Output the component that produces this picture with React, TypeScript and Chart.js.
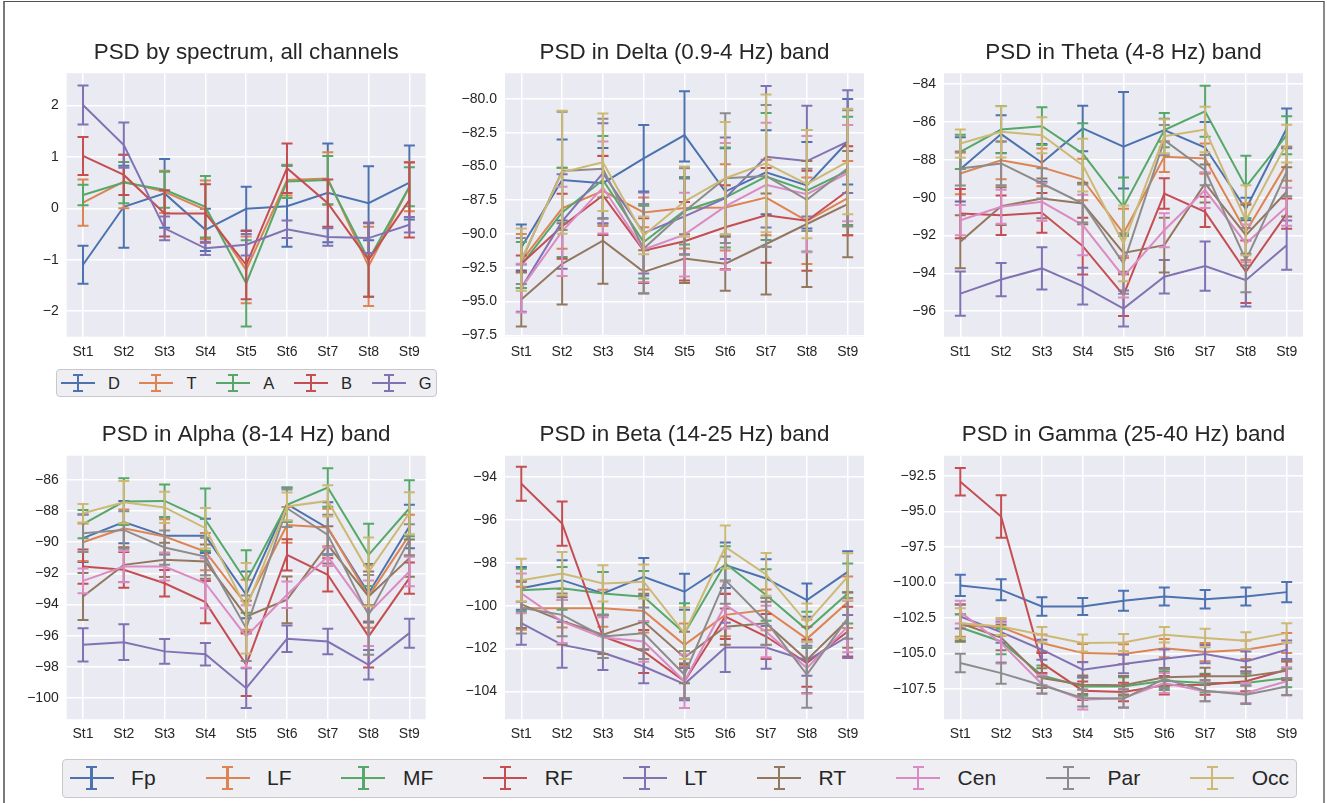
import React, { useEffect, useRef } from 'react';
import { Chart, registerables } from 'chart.js';

Chart.register(...registerables);

// ---------------- DATA ----------------
const STATIONS = ['St1', 'St2', 'St3', 'St4', 'St5', 'St6', 'St7', 'St8', 'St9'];
const SPECTRA = ['D', 'T', 'A', 'B', 'G'];
const CHANNELS = ['Fp', 'LF', 'MF', 'RF', 'LT', 'RT', 'Cen', 'Par', 'Occ'];

type Err = number | [number, number]; // symmetric or [down, up]

const SPECTRUM_MEAN: number[][] = [
  [-1.1, 0.03, 0.29, -0.42, -0.01, 0.04, 0.3, 0.1, 0.5],
  [0.11, 0.52, 0.32, -0.03, -1.2, 0.55, 0.58, -1.13, 0.42],
  [0.26, 0.5, 0.36, 0.03, -1.46, 0.52, 0.55, -1.0, 0.42],
  [1.02, 0.65, -0.1, -0.1, -1.1, 0.78, 0.1, -1.0, 0.16],
  [2.01, 1.23, -0.39, -0.78, -0.71, -0.41, -0.56, -0.58, -0.32],
];
const SPECTRUM_ERR: Err[][] = [
  [0.37, 0.8, 0.67, 0.41, 0.43, 0.79, 0.96, 0.72, 0.72],
  [0.45, 0.52, 0.41, 0.57, 0.65, 0.3, 0.51, 0.77, 0.48],
  [0.2, 0.4, 0.35, 0.6, 0.84, 0.32, 0.47, 0.72, 0.38],
  [0.37, 0.39, 0.45, 0.57, 0.67, 0.48, 0.46, 0.72, 0.73],
  [0.38, 0.44, 0.23, 0.13, 0.21, 0.17, 0.17, 0.29, 0.15],
];

const DELTA_MEAN: number[][] = [
  [-91.0, -86.0, -86.24, -84.4, -82.68, -86.86, -85.43, -86.4, -83.17],
  [-92.0, -88.1, -86.8, -88.4, -88.08, -88.03, -87.3, -89.02, -87.35],
  [-92.3, -88.4, -86.0, -90.6, -88.28, -87.3, -85.75, -86.8, -85.33],
  [-92.2, -89.43, -87.15, -91.23, -90.54, -89.5, -88.62, -89.02, -86.8],
  [-94.0, -89.07, -85.5, -89.93, -88.7, -87.35, -84.28, -84.6, -83.17],
  [-94.84, -92.21, -90.49, -92.8, -91.82, -92.2, -90.74, -89.26, -87.79],
  [-94.0, -89.8, -86.56, -91.15, -90.05, -87.96, -86.36, -87.05, -85.5],
  [-92.0, -85.33, -85.18, -91.08, -88.33, -85.87, -85.7, -87.47, -85.14],
  [-91.9, -85.43, -84.69, -90.1, -87.6, -85.87, -84.77, -86.31, -84.64],
];
const DELTA_ERR: Err[][] = [
  [1.7, 3.0, 2.6, 2.46, [1.96, 3.25], 3.2, 3.1, 3.2, 3.16],
  [2.0, 3.0, 2.6, 1.1, 3.0, 3.2, 2.8, 3.2, 2.75],
  [1.7, 3.3, 3.25, 2.7, 2.5, 3.7, 4.7, 4.5, 4.0],
  [0.6, 2.4, 2.93, 2.4, 2.9, 3.1, 3.5, 3.7, 3.3],
  [1.75, 3.5, 3.7, 3.0, 2.8, 4.5, 5.24, 4.1, 3.8],
  [2.0, 3.0, 3.2, 1.6, 1.8, 2.0, 3.73, 4.67, 3.93],
  [1.8, 3.3, 3.4, 2.4, 3.1, 4.7, 4.6, 4.3, 3.56],
  [1.7, 4.37, 3.7, 3.3, 3.2, 4.8, 5.25, 2.3, 4.3],
  [2.3, 4.55, 3.6, 1.4, 2.6, 4.15, 5.1, 4.0, 3.9],
];

const THETA_MEAN: number[][] = [
  [-88.5, -86.64, -88.16, -86.34, -87.31, -86.43, -87.35, -90.6, -86.34],
  [-88.72, -88.02, -88.4, -89.04, -91.89, -87.84, -87.93, -91.8, -88.2],
  [-87.58, -86.4, -86.22, -87.67, -90.48, -86.43, -85.43, -89.43, -86.7],
  [-90.84, -90.93, -90.8, -92.56, -95.15, -89.78, -90.75, -93.92, -90.84],
  [-95.07, -94.33, -93.74, -94.68, -95.86, -94.18, -93.62, -94.36, -92.51],
  [-92.33, -90.45, -90.04, -90.31, -92.92, -92.51, -89.25, -91.98, -89.69],
  [-91.19, -90.48, -90.22, -91.45, -94.18, -91.72, -89.6, -92.42, -90.48],
  [-88.46, -88.19, -89.25, -90.31, -93.48, -86.96, -88.55, -93.3, -88.63],
  [-87.14, -86.52, -86.7, -88.28, -92.42, -86.75, -86.4, -91.2, -87.14],
];
const THETA_ERR: Err[][] = [
  [1.7, 1.0, 1.0, 1.2, [2.2, 2.9], 0.6, 1.35, 0.6, 1.05],
  [1.1, 1.0, 1.0, 1.1, 1.3, 0.8, 0.8, 1.5, 0.9],
  [0.9, 1.25, 1.0, 1.6, 1.55, 0.9, 1.35, 1.65, 1.0],
  [1.3, 1.05, 1.05, 1.5, 1.1, 0.8, 0.8, 1.65, 0.8],
  [1.17, 0.88, 1.12, 0.97, 0.95, 0.88, 1.3, 1.4, 1.3],
  [1.4, 1.0, 1.05, 1.1, 1.0, 1.45, 1.0, 1.6, 1.3],
  [0.8, 0.9, 1.0, 1.6, 1.1, 0.9, 0.95, 1.0, 1.0],
  [0.9, 1.15, 0.8, 1.0, 1.6, 0.8, 0.8, 1.7, 1.3],
  [0.75, 1.35, 0.95, 1.4, 2.0, 0.9, 1.2, 1.85, 1.0],
];

const ALPHA_MEAN: number[][] = [
  [-89.74, -88.71, -89.59, -89.59, -93.37, -87.56, -89.1, -93.27, -88.99],
  [-90.0, -89.1, -89.63, -90.6, -94.01, -88.89, -89.06, -93.48, -89.53],
  [-88.84, -87.39, -87.35, -88.56, -92.52, -87.6, -86.49, -90.81, -87.82],
  [-91.56, -91.77, -92.63, -93.84, -97.86, -90.81, -92.09, -96.04, -92.3],
  [-96.58, -96.41, -97.0, -97.18, -99.36, -96.19, -96.37, -97.86, -95.83],
  [-93.48, -91.45, -91.13, -91.24, -94.76, -93.69, -90.17, -93.48, -91.02],
  [-92.48, -91.56, -91.56, -92.63, -96.04, -93.37, -90.92, -94.55, -91.88],
  [-89.42, -89.21, -90.34, -90.92, -95.51, -87.82, -89.53, -94.66, -89.85],
  [-88.14, -87.43, -87.77, -89.1, -94.23, -87.71, -87.35, -91.9, -88.14],
];
const ALPHA_ERR: Err[][] = [
  [1.52, 1.35, 1.2, 1.1, 1.5, 1.07, 1.67, 1.87, 1.4],
  [1.2, 1.2, 1.1, 1.2, 1.6, 1.15, 1.2, 2.0, 1.3],
  [0.9, 1.5, 1.05, 2.0, 2.0, 1.1, 1.23, 2.0, 1.8],
  [1.1, 1.15, 0.85, 1.35, 2.0, 1.0, 1.07, 2.0, 1.0],
  [1.07, 1.15, 0.8, 0.72, 1.27, 0.85, 0.82, 0.95, 0.93],
  [1.5, 1.1, 1.1, 1.1, 1.0, 1.5, 1.2, 1.6, 1.2],
  [0.8, 1.0, 0.9, 1.6, 2.0, 0.85, 0.6, 2.1, 0.95],
  [1.2, 1.2, 1.1, 1.2, 2.1, 1.2, 1.3, 2.56, 1.0],
  [0.6, 1.35, 1.0, 1.3, 2.9, 0.9, 1.0, 2.2, 1.35],
];

const BETA_MEAN: number[][] = [
  [-99.19, -98.81, -99.43, -98.65, -99.35, -98.11, -98.73, -99.74, -98.42],
  [-100.12, -100.12, -100.12, -100.25, -101.83, -100.43, -100.2, -101.55, -99.84],
  [-99.28, -99.19, -99.43, -99.58, -101.29, -98.03, -99.5, -101.13, -99.43],
  [-94.31, -96.17, -101.44, -102.14, -103.53, -100.51, -101.44, -102.68, -101.21],
  [-100.82, -101.83, -102.2, -102.84, -103.66, -101.95, -101.95, -102.57, -101.44],
  [-99.94, -100.71, -101.36, -100.74, -102.42, -100.98, -100.82, -102.53, -100.67],
  [-99.43, -100.74, -101.49, -101.67, -103.53, -99.97, -101.21, -102.91, -100.98],
  [-100.1, -100.43, -101.44, -101.29, -103.22, -98.81, -100.74, -103.22, -100.59],
  [-98.81, -98.5, -98.96, -98.88, -101.29, -97.26, -98.54, -100.8, -98.65],
];
const BETA_ERR: Err[][] = [
  [1.0, 0.93, 1.0, 0.87, 0.84, 1.06, 0.9, 0.78, 0.96],
  [1.0, 0.9, 0.86, 1.0, 1.0, 1.0, 0.95, 0.9, 1.2],
  [1.0, 1.0, 1.0, 1.2, 1.4, 0.8, 1.2, 0.85, 1.4],
  [0.79, 1.03, 1.0, 1.0, 0.8, 1.05, 1.05, 1.1, 1.16],
  [1.0, 1.07, 0.8, 0.78, 0.75, 1.15, 1.0, 0.7, 1.0],
  [1.1, 1.1, 0.9, 1.3, 1.2, 0.85, 1.0, 1.55, 1.3],
  [0.93, 1.0, 0.95, 0.95, 1.25, 1.1, 1.2, 1.2, 1.2],
  [1.2, 1.0, 1.0, 1.2, 1.1, 1.1, 1.1, 1.55, 0.95],
  [1.0, 1.0, 0.85, 0.8, 1.2, 1.0, 1.0, 0.9, 1.1],
];

const GAMMA_MEAN: number[][] = [
  [-100.22, -100.53, -101.7, -101.7, -101.3, -101.0, -101.19, -101.0, -100.69],
  [-103.04, -103.16, -104.28, -104.99, -105.06, -104.64, -104.92, -104.75, -104.28],
  [-103.18, -104.17, -106.56, -107.34, -107.34, -106.94, -107.1, -107.1, -106.75],
  [-92.9, -95.36, -105.69, -107.64, -107.73, -107.26, -107.22, -106.98, -106.16],
  [-102.41, -103.51, -104.75, -106.16, -105.76, -105.39, -105.06, -105.58, -104.75],
  [-102.88, -103.89, -106.75, -107.22, -107.26, -106.7, -106.63, -106.63, -106.23],
  [-102.1, -104.28, -107.17, -108.27, -108.16, -107.1, -107.69, -107.8, -106.98],
  [-105.69, -106.4, -107.26, -108.16, -108.2, -106.8, -107.64, -107.92, -107.34],
  [-102.88, -103.11, -103.7, -104.28, -104.24, -103.7, -103.93, -104.12, -103.58],
];
const GAMMA_ERR: Err[][] = [
  [0.75, 0.74, 0.65, 0.6, 0.7, 0.64, 0.65, 0.64, 0.72],
  [0.8, 0.6, 0.6, 0.65, 0.7, 0.65, 0.65, 0.65, 0.7],
  [0.92, 0.9, 0.7, 0.65, 0.65, 0.65, 0.65, 0.65, 0.65],
  [0.97, 1.5, 0.7, 0.65, 0.65, 0.65, 0.7, 0.7, 0.6],
  [0.85, 0.75, 0.7, 0.55, 0.65, 0.65, 0.65, 0.7, 0.65],
  [1.31, 0.9, 0.7, 0.65, 0.65, 0.65, 0.6, 0.65, 0.65],
  [0.8, 1.45, 0.65, 0.7, 0.65, 0.7, 0.7, 0.7, 1.0],
  [0.65, 0.75, 0.6, 0.6, 0.65, 0.65, 0.75, 0.65, 0.6],
  [1.05, 0.6, 0.55, 0.6, 0.6, 0.55, 0.65, 0.6, 0.7],
];

const SPECTRUM_TICKS = [-2, -1, 0, 1, 2];
const DELTA_TICKS = [-97.5, -95, -92.5, -90, -87.5, -85, -82.5, -80];
const THETA_TICKS = [-96, -94, -92, -90, -88, -86, -84];
const ALPHA_TICKS = [-100, -98, -96, -94, -92, -90, -88, -86];
const BETA_TICKS = [-104, -102, -100, -98, -96, -94];
const GAMMA_TICKS = [-107.5, -105, -102.5, -100, -97.5, -95, -92.5];

// ---------------- STYLE ----------------
const COLORS = ['#4C72B0', '#DD8452', '#55A868', '#C44E52', '#8172B3', '#937860', '#DA8BC3', '#8C8C8C', '#CCB974'];
const FONT = '"Liberation Sans", Arial, Helvetica, sans-serif';
const TEXT = '#262626';
const PLOT_W = 359;
const PLOT_H = 263.5;

type PanelSpec = {
  title: string;
  names: string[];
  means: number[][];
  errs: Err[][];
  ticks: number[];
  decimals: number;
  yMin: number;
  yMax: number;
  left: number;
  top: number;
};

const PANELS: PanelSpec[] = [
  { title: 'PSD by spectrum, all channels', names: SPECTRA, means: SPECTRUM_MEAN, errs: SPECTRUM_ERR, ticks: SPECTRUM_TICKS, decimals: 0, yMin: -2.5, yMax: 2.63, left: 66.7, top: 73.2 },
  { title: 'PSD in Delta (0.9-4 Hz) band', names: CHANNELS, means: DELTA_MEAN, errs: DELTA_ERR, ticks: DELTA_TICKS, decimals: 1, yMin: -97.6, yMax: -78.1, left: 505, top: 73.2 },
  { title: 'PSD in Theta (4-8 Hz) band', names: CHANNELS, means: THETA_MEAN, errs: THETA_ERR, ticks: THETA_TICKS, decimals: 0, yMin: -97.35, yMax: -83.42, left: 944, top: 73.2 },
  { title: 'PSD in Alpha (8-14 Hz) band', names: CHANNELS, means: ALPHA_MEAN, errs: ALPHA_ERR, ticks: ALPHA_TICKS, decimals: 0, yMin: -101.35, yMax: -84.45, left: 66.7, top: 455.7 },
  { title: 'PSD in Beta (14-25 Hz) band', names: CHANNELS, means: BETA_MEAN, errs: BETA_ERR, ticks: BETA_TICKS, decimals: 0, yMin: -105.3, yMax: -93.0, left: 505, top: 455.7 },
  { title: 'PSD in Gamma (25-40 Hz) band', names: CHANNELS, means: GAMMA_MEAN, errs: GAMMA_ERR, ticks: GAMMA_TICKS, decimals: 1, yMin: -109.65, yMax: -91.07, left: 944, top: 455.7 },
];

const fmtTick = (v: number, d: number) => v.toFixed(d).replace('-', '\u2212');

const plotBgPlugin = {
  id: 'plotBg',
  beforeDraw(chart: any) {
    const { ctx, chartArea: a } = chart;
    ctx.save();
    ctx.fillStyle = '#EAEAF2';
    ctx.fillRect(a.left, a.top, a.right - a.left, a.bottom - a.top);
    ctx.restore();
  },
};

const CAP = 5.5;
const errorBarPlugin = {
  id: 'errorBars',
  afterDatasetDraw(chart: any, args: any) {
    const ds: any = chart.data.datasets[args.index];
    if (!ds.errors) return;
    const xs = chart.scales.x;
    const ys = chart.scales.y;
    const ctx = chart.ctx;
    ctx.save();
    ctx.strokeStyle = ds.borderColor;
    ctx.lineWidth = 2;
    ds.data.forEach((p: any, i: number) => {
      const e = ds.errors[i];
      const lo = Array.isArray(e) ? e[0] : e;
      const hi = Array.isArray(e) ? e[1] : e;
      const x = xs.getPixelForValue(p.x);
      const y1 = ys.getPixelForValue(p.y - lo);
      const y2 = ys.getPixelForValue(p.y + hi);
      ctx.beginPath();
      ctx.moveTo(x, y1);
      ctx.lineTo(x, y2);
      ctx.moveTo(x - CAP, y1);
      ctx.lineTo(x + CAP, y1);
      ctx.moveTo(x - CAP, y2);
      ctx.lineTo(x + CAP, y2);
      ctx.stroke();
    });
    ctx.restore();
  },
};

function Panel({ spec }: { spec: PanelSpec }) {
  const ref = useRef<HTMLCanvasElement>(null);
  const cLeft = Math.floor(spec.left - 62);
  const yw = spec.left - cLeft;
  const cTop = Math.floor(spec.top - 34);
  const th = spec.top - cTop;
  const cWidth = Math.ceil(yw + PLOT_W + 4);
  const rightPad = cWidth - yw - PLOT_W;
  const cHeight = Math.ceil(th + PLOT_H + 32);
  const xh = cHeight - th - PLOT_H;
  const titleSize = 22.4;
  const titleLine = titleSize * 1.2;

  useEffect(() => {
    const n = spec.means.length;
    const datasets = spec.means.map((row, i) => ({
      label: spec.names[i],
      data: row.map((v, j) => ({ x: j, y: v })),
      errors: spec.errs[i],
      borderColor: COLORS[i],
      backgroundColor: COLORS[i],
      borderWidth: 2,
      pointRadius: 0,
      tension: 0,
      fill: false,
      order: n - i,
    }));
    const chart = new Chart(ref.current as HTMLCanvasElement, {
      type: 'line',
      data: { datasets } as any,
      options: {
        animation: false,
        responsive: false,
        events: [],
        layout: { padding: { left: 0, top: 0, bottom: 0, right: rightPad } },
        plugins: {
          legend: { display: false },
          tooltip: { enabled: false },
          title: {
            display: true,
            fullSize: false,
            text: spec.title,
            color: TEXT,
            font: { family: FONT, size: titleSize, weight: 'normal', lineHeight: 1.2 },
            padding: { top: Math.max(0, th - titleLine - 7), bottom: 7 },
          },
        },
        scales: {
          x: {
            type: 'linear',
            min: -0.4,
            max: 8.4,
            afterBuildTicks: (axis: any) => {
              axis.ticks = STATIONS.map((_, i) => ({ value: i }));
            },
            afterFit: (axis: any) => {
              axis.height = xh;
            },
            ticks: {
              callback: (v: any) => STATIONS[Math.round(Number(v))],
              autoSkip: false,
              maxRotation: 0,
              padding: 6.6,
              color: TEXT,
              font: { family: FONT, size: 14 },
            },
            grid: { color: '#FFFFFF', lineWidth: 1.5, drawTicks: false },
            border: { display: false },
          },
          y: {
            type: 'linear',
            min: spec.yMin,
            max: spec.yMax,
            afterBuildTicks: (axis: any) => {
              axis.ticks = spec.ticks.map((v) => ({ value: v }));
            },
            afterFit: (axis: any) => {
              axis.width = yw;
            },
            ticks: {
              callback: (v: any) => fmtTick(Number(v), spec.decimals),
              autoSkip: false,
              padding: 8,
              color: TEXT,
              font: { family: FONT, size: 14 },
            },
            grid: { color: '#FFFFFF', lineWidth: 1.5, drawTicks: false },
            border: { display: false },
          },
        },
      } as any,
      plugins: [plotBgPlugin, errorBarPlugin],
    });
    return () => chart.destroy();
  }, []);

  return (
    <div style={{ position: 'absolute', left: cLeft, top: cTop, width: cWidth, height: cHeight }}>
      <canvas ref={ref} width={cWidth} height={cHeight} style={{ display: 'block' }} />
    </div>
  );
}

function Glyph({ color, w, h, cap, lw }: { color: string; w: number; h: number; cap: number; lw: number }) {
  return (
    <span style={{ position: 'relative', display: 'inline-block', width: w, height: h, flex: 'none' }}>
      <span style={{ position: 'absolute', left: 0, top: h / 2 - lw / 2, width: w, height: lw, background: color }} />
      <span style={{ position: 'absolute', left: w / 2 - lw / 2, top: 0, width: lw, height: h, background: color }} />
      <span style={{ position: 'absolute', left: w / 2 - cap / 2, top: 0, width: cap, height: lw, background: color }} />
      <span style={{ position: 'absolute', left: w / 2 - cap / 2, top: h - lw, width: cap, height: lw, background: color }} />
    </span>
  );
}

const legendBox: React.CSSProperties = {
  position: 'absolute',
  boxSizing: 'border-box',
  background: '#EEEEF3',
  border: '1px solid #C8C8CC',
  borderRadius: 4,
  display: 'flex',
  alignItems: 'center',
  justifyContent: 'space-between',
  fontFamily: FONT,
  color: TEXT,
};

export default function App() {
  return (
    <div style={{ position: 'fixed', left: 0, top: 0, width: 1327, height: 803, background: '#FFFFFF', overflow: 'hidden' }}>
      <div
        style={{
          position: 'absolute',
          left: 3,
          top: 1,
          width: 1318,
          height: 810,
          borderTop: '1.5px solid #505050',
          borderLeft: '2px solid #7a7a7a',
          borderRight: '2px solid #8a8a8a',
        }}
      />
      {PANELS.map((p, i) => (
        <Panel key={i} spec={p} />
      ))}
      <div style={{ ...legendBox, left: 56, top: 369.3, width: 380.7, height: 28, paddingLeft: 3.7, paddingRight: 4 }}>
        {SPECTRA.map((name, i) => (
          <div key={name} style={{ flex: 'none', display: 'flex', alignItems: 'center' }}>
            <Glyph color={COLORS[i]} w={34} h={18} cap={10} lw={2} />
            <span style={{ marginLeft: 13.2, fontSize: 16.5, lineHeight: '19px' }}>{name}</span>
          </div>
        ))}
      </div>
      <div style={{ ...legendBox, left: 62, top: 759, width: 1235, height: 38.5, paddingLeft: 6.6, paddingRight: 7 }}>
        {CHANNELS.map((name, i) => (
          <div key={name} style={{ flex: 'none', display: 'flex', alignItems: 'center' }}>
            <Glyph color={COLORS[i]} w={44} h={24} cap={11} lw={2.2} />
            <span style={{ marginLeft: 17.5, fontSize: 21, lineHeight: '24px' }}>{name}</span>
          </div>
        ))}
      </div>
    </div>
  );
}
